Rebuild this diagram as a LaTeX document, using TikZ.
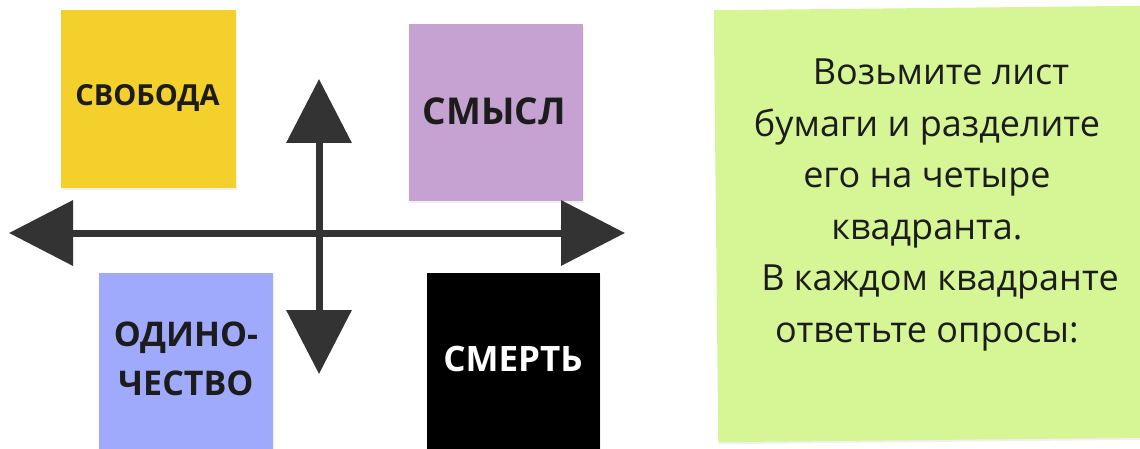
\documentclass[tikz,border=0pt]{standalone}
\usepackage{fontspec}
\setmainfont{Open Sans}
\usetikzlibrary{arrows.meta,shadows}
\definecolor{noteyellow}{HTML}{F3D02B}
\definecolor{notepurple}{HTML}{C6A2D2}
\definecolor{noteblue}{HTML}{A0AAFD}
\definecolor{notegreen}{HTML}{D6F595}
\definecolor{axisgray}{HTML}{333333}
\definecolor{labeltext}{HTML}{1C1C1C}
\begin{document}
\begin{tikzpicture}[x=1pt,y=-1pt,
  note/.style={draw=none, inner sep=0pt, anchor=center,
    drop shadow={opacity=0.12, shadow xshift=0.5pt, shadow yshift=-2pt}},
  lbl/.style={inner sep=0pt, anchor=center, text=labeltext, font=\bfseries},
  axis/.style={draw=axisgray, line width=7pt,
    {Triangle[length=64pt,width=64pt]}-{Triangle[length=64pt,width=64pt]}}
]
\useasboundingbox (0,0) rectangle (1140,449);

% sticky notes
\node[note, fill=noteyellow, minimum width=175pt, minimum height=178pt] (svoboda) at (148.5,99) {};
\node[note, fill=notepurple, minimum width=174pt, minimum height=177pt] (smysl) at (496,112.5) {};
\node[note, fill=noteblue, minimum width=174pt, minimum height=180pt] (odin) at (186,363) {};
\node[note, fill=black, minimum width=173pt, minimum height=180pt] (smert) at (513.5,363) {};
\node[note, fill=notegreen, minimum width=428pt, minimum height=432pt, rotate=0.6] (task) at (930,224) {};

% labels
\node[lbl, font=\bfseries\fontsize{29}{35}\selectfont] (svobodaT) at (147.5,98) {СВОБОДА};
\node[lbl, font=\bfseries\fontsize{37}{44}\selectfont] (smyslT) at (494.5,111) {СМЫСЛ};
\node[lbl, align=center, font=\bfseries\fontsize{34}{48.5}\selectfont] (odinT) at (186,359) {ОДИНО-\\ЧЕСТВО};
\node[lbl, text=white, font=\bfseries\fontsize{35}{42}\selectfont] (smertT) at (513,359) {СМЕРТЬ};

\node[inner sep=0pt, anchor=center, align=center, text=labeltext,
  font=\fontsize{36}{51.6}\selectfont] (taskT) at (927,205)
  {\hspace*{28pt}Возьмите лист\\бумаги и разделите\\его на четыре\\квадранта.\\\hspace*{26pt}В каждом квадранте\\ответьте опросы:};

% axes
\coordinate (L) at (9,233);
\coordinate (R) at (625,233);
\coordinate (T) at (319,79);
\coordinate (B) at (319,374);
\draw[axis] (L) -- (R);
\draw[axis] (T) -- (B);
\end{tikzpicture}
\end{document}
